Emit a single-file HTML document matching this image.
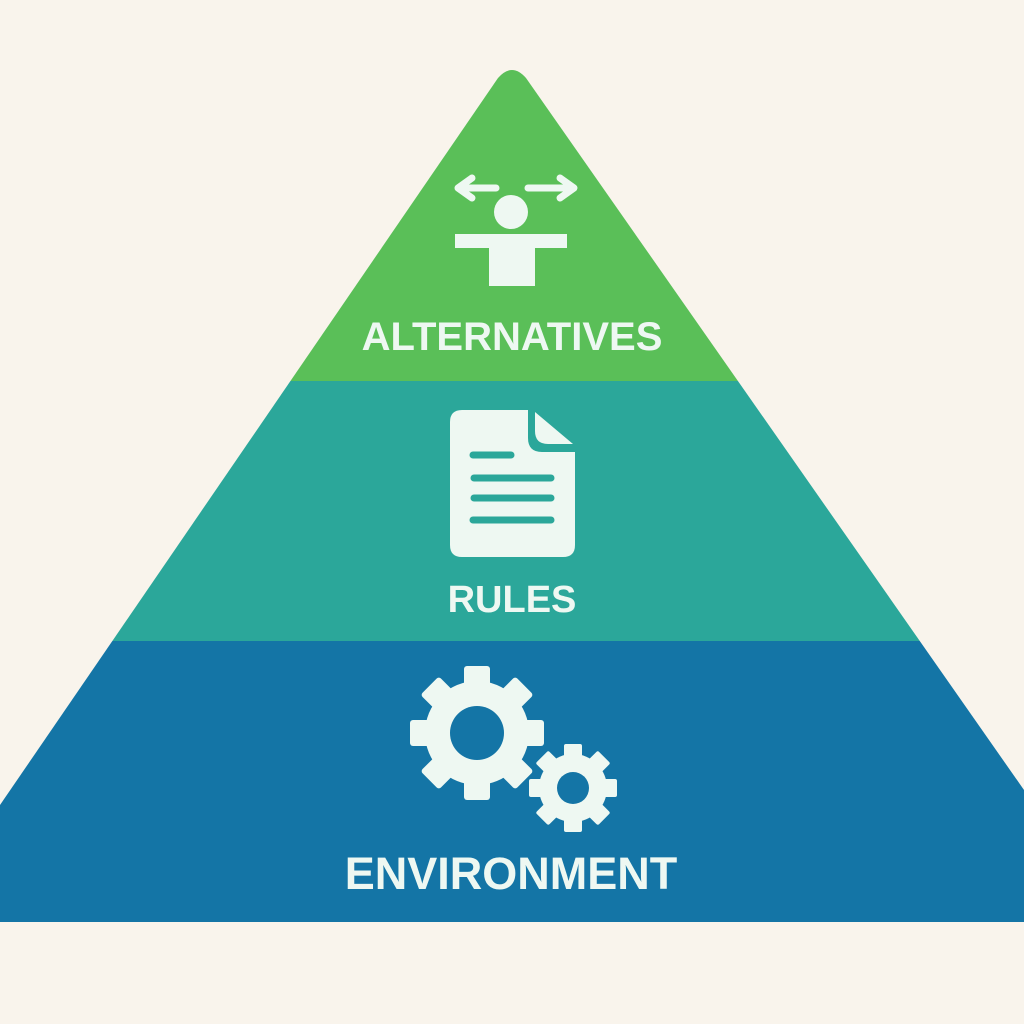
<!DOCTYPE html>
<html><head><style>
html,body{margin:0;padding:0;background:#f9f4ec;}
svg{display:block;}
text{font-family:"Liberation Sans",sans-serif;font-weight:bold;fill:#eef8f2;text-anchor:middle;}
</style></head><body>
<svg width="1024" height="1024" viewBox="0 0 1024 1024">
<rect width="1024" height="1024" fill="#f9f4ec"/>
<defs>
<clipPath id="tri">
<path d="M498,78 Q512,62 526,78 L1024,790 L1024,922 L0,922 L0,805 Z"/>
</clipPath>
</defs>
<g clip-path="url(#tri)">
<rect x="0" y="0" width="1024" height="381" fill="#5abf58"/>
<rect x="0" y="381" width="1024" height="260" fill="#2ba79a"/>
<rect x="0" y="641" width="1024" height="281" fill="#1475a6"/>
</g>
<!-- person -->
<g fill="#eef8f2" stroke="#eef8f2">
<circle cx="511" cy="212" r="17" stroke="none"/>
<path d="M455,234 H567 V248 H535 V286 H489 V248 H455 Z" stroke="none"/>
<path d="M496,188 H458 M472,178 L458,188 L472,198" fill="none" stroke-width="7" stroke-linecap="round" stroke-linejoin="round"/>
<path d="M528,188 H572 M560,178 L574,188 L560,198" fill="none" stroke-width="7" stroke-linecap="round" stroke-linejoin="round"/>
</g>
<text x="512" y="350" font-size="40">ALTERNATIVES</text>
<!-- document -->
<path d="M462,410 H528 V438 Q528,452 542,452 H575 V545 Q575,557 563,557 H462 Q450,557 450,545 V422 Q450,410 462,410 Z" fill="#eef8f2"/>
<path d="M535,412 L573,444 H548 Q535,444 535,431 Z" fill="#eef8f2"/>
<g stroke="#2ba79a" stroke-width="7" stroke-linecap="round">
<line x1="473" y1="455" x2="511" y2="455"/>
<line x1="474" y1="478" x2="551" y2="478"/>
<line x1="474" y1="498" x2="551" y2="498"/>
<line x1="473" y1="520" x2="551" y2="520"/>
</g>
<text x="512" y="612" font-size="38">RULES</text>
<!-- gears -->
<g fill="#eef8f2">
<circle cx="477" cy="733" r="52"/>
<g id="t1">
<rect x="464" y="666" width="26" height="24" rx="3"/>
<rect x="464" y="776" width="26" height="24" rx="3"/>
<rect x="410" y="720" width="24" height="26" rx="3"/>
<rect x="520" y="720" width="24" height="26" rx="3"/>
</g>
<use href="#t1" transform="rotate(45 477 733)"/>
<circle cx="573" cy="788" r="34"/>
<g id="t2">
<rect x="564" y="744" width="18" height="16" rx="2"/>
<rect x="564" y="816" width="18" height="16" rx="2"/>
<rect x="529" y="779" width="16" height="18" rx="2"/>
<rect x="601" y="779" width="16" height="18" rx="2"/>
</g>
<use href="#t2" transform="rotate(45 573 788)"/>
</g>
<circle cx="477" cy="733" r="27" fill="#1475a6"/>
<circle cx="573" cy="788" r="16" fill="#1475a6"/>
<text x="511" y="889" font-size="45">ENVIRONMENT</text>
</svg>
</body></html>
